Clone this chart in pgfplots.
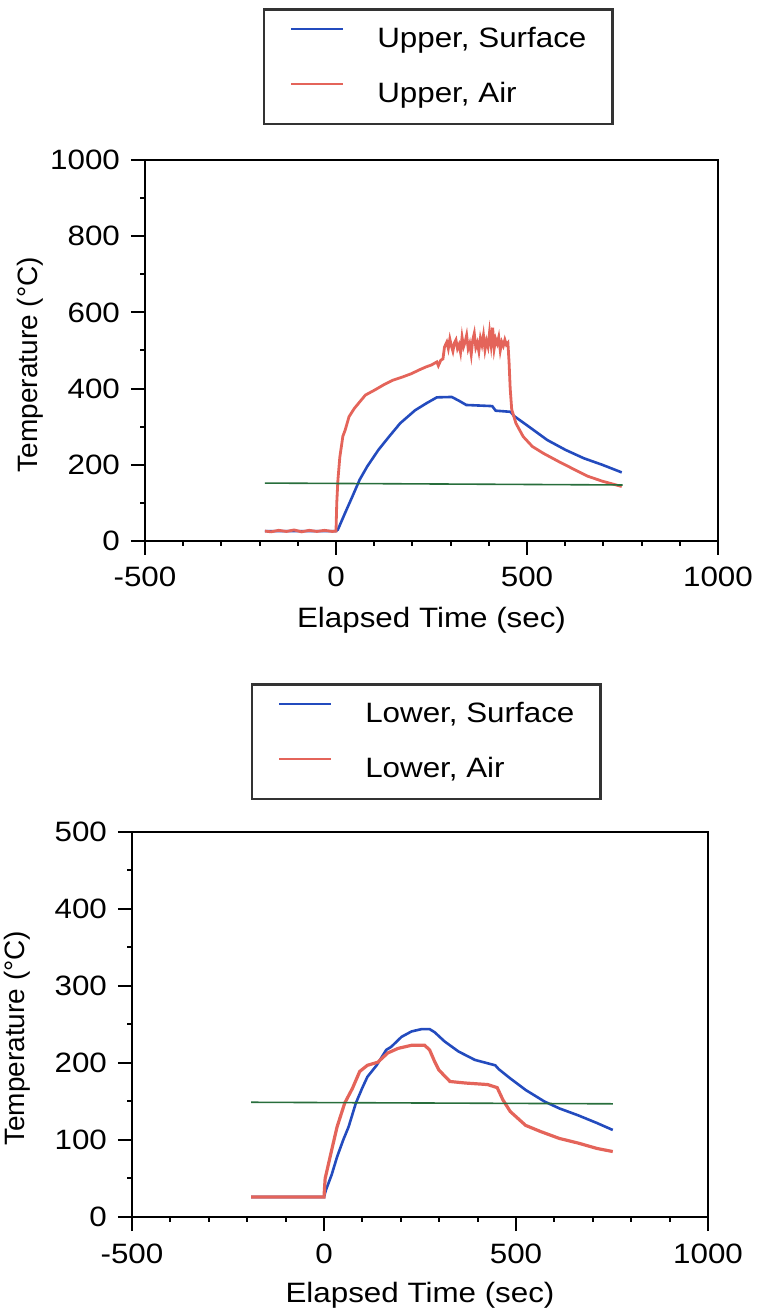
\documentclass[border=0pt]{standalone}
\usepackage{fontspec}
\setmainfont[FakeStretch=1.12]{Liberation Sans}
\newfontfamily\ylabfont{Liberation Sans}
\usepackage{pgfplots}
\pgfplotsset{compat=1.18}
\definecolor{cblue}{RGB}{35,75,190}
\definecolor{cred}{RGB}{228,100,90}
\definecolor{cgreen}{RGB}{40,110,60}
\newcommand{\fs}{\fontsize{14}{16}\selectfont}
\pgfplotsset{
  myaxis/.style={
    scale only axis,
    anchor=south west,
    xmin=-500, xmax=1000,
    xtick={-500,0,500,1000},
    xticklabels={-500,0,500,1000},
    minor x tick num=4,
    minor y tick num=1,
    xtick pos=bottom, ytick pos=left,
    tick align=outside,
    major tick length=7pt,
    minor tick length=2.5pt,
    every tick/.style={black, line width=1pt},
    axis line style={line width=1.3pt, black},
    tick label style={font=\fs, black},
    xticklabel style={anchor=base, yshift=-16pt},
    yticklabel style={anchor=east, xshift=-2pt},
    xlabel style={font=\fs, anchor=base},
    xlabel={Elapsed Time (sec)},
    ylabel={Temperature (°C)},
    ylabel style={font=\ylabfont\fs, anchor=center},
    legend cell align=left,
    legend style={draw=black!80, line width=1.2pt, fill=white, font=\fs,
      inner xsep=13pt, inner ysep=9pt, row sep=15.9pt, column sep=16.5pt,
      nodes={inner sep=0pt}, anchor=south},
    legend image code/.code={\draw[#1, line width=1pt] (0pt,5pt) -- (26pt,5pt);},
  }
}
\begin{document}
\begin{tikzpicture}
\useasboundingbox (0,0) rectangle (378pt,654.5pt);
% ---------------- top ----------------
\begin{axis}[myaxis,
  at={(72.5pt,384pt)}, width=286.5pt, height=190.5pt,
  ymin=0, ymax=1000,
  ytick={0,200,400,600,800,1000},
  yticklabels={0,200,400,600,800,1000},
  xlabel style={at={(axis description cs:0.5,-0.2283)}},
  ylabel style={at={(axis description cs:-0.2007,0.463)}},
  legend style={at={(axis description cs:0.512,1.0919)}},
]
\addplot[cblue, line width=1.3pt] coordinates {
(-186,26) (0,26) (5,30) (24,74) (43,117) (62,161) (82,196) (111,239) (139,274)
(168,309) (207,343) (236,361) (264,377) (303,378) (322,368) (341,357) (409,354)
(418,342) (457,339) (466,328) (505,300) (553,265) (601,239) (649,217) (697,200) (748,180)};
\addlegendentry{Upper, Surface}
\addplot[cred, line width=1.4pt] coordinates {
(-186,26) (-170,24) (-150,28) (-130,25) (-110,29) (-90,24) (-70,28) (-50,25) (-30,28) (-10,25)
(0,26) (2,100) (5,160) (10,220) (18,275) (24,291) (34,326) (48,348) (62,365) (77,383)
(101,396) (125,410) (149,422) (173,430) (197,439) (220,450) (236,457) (250,462) (264,470)
(268,460) (274,474) (280,478) (284,509)
(290,522) (294,505) (298,530) (302,512) (306,498) (310,520) (314,528) (318,505) (322,515)
(326,495) (330,535) (334,510) (338,522) (342,540) (346,505) (350,518) (354,490) (358,528)
(362,545) (366,508) (370,520) (374,498) (378,532) (382,515) (386,540) (390,502) (394,525)
(398,510) (402,548) (406,515) (410,560) (414,505) (418,530) (422,518) (426,535) (430,500)
(434,522) (438,512) (442,528) (446,515) (450,520) (453,470) (456,400) (460,345)
(471,309) (490,274) (514,248) (543,230) (582,209) (625,187) (659,170) (697,157) (748,143)};
\addlegendentry{Upper, Air}
\addplot[cgreen, line width=0.8pt, forget plot] coordinates {(-186,152) (750,147)};
\end{axis}
% ---------------- bottom ----------------
\begin{axis}[myaxis,
  at={(66pt,46pt)}, width=288pt, height=192.5pt,
  ymin=0, ymax=500,
  ytick={0,100,200,300,400,500},
  yticklabels={0,100,200,300,400,500},
  xlabel style={at={(axis description cs:0.5,-0.222)}},
  ylabel style={at={(axis description cs:-0.2,0.464)}},
  legend style={at={(axis description cs:0.511,1.083)}},
]
\addplot[cblue, line width=1.3pt] coordinates {
(-190,26) (0,26) (5,35) (20,55) (34,78) (50,100) (64,117) (83,148) (100,168) (113,182)
(137,197) (162,217) (175,221) (202,234) (228,241) (254,244) (275,244) (288,240) (314,228)
(350,215) (393,204) (446,197) (455,192) (485,180) (525,165) (574,150) (613,141) (662,132)
(711,122) (752,113)};
\addlegendentry{Lower, Surface}
\addplot[cred, line width=1.6pt] coordinates {
(-190,26) (0,26) (3,50) (20,87) (34,117) (54,148) (74,167) (93,189) (113,197) (140,201)
(166,213) (193,219) (228,223) (262,223) (275,217) (288,202) (299,191) (328,176) (368,174)
(426,172) (451,168) (466,152) (485,137) (525,119) (564,111) (613,102) (662,96) (711,89) (752,85)};
\addlegendentry{Lower, Air}
\addplot[cgreen, line width=0.8pt, forget plot] coordinates {(-190,149) (752,147)};
\end{axis}
\end{tikzpicture}
\end{document}
